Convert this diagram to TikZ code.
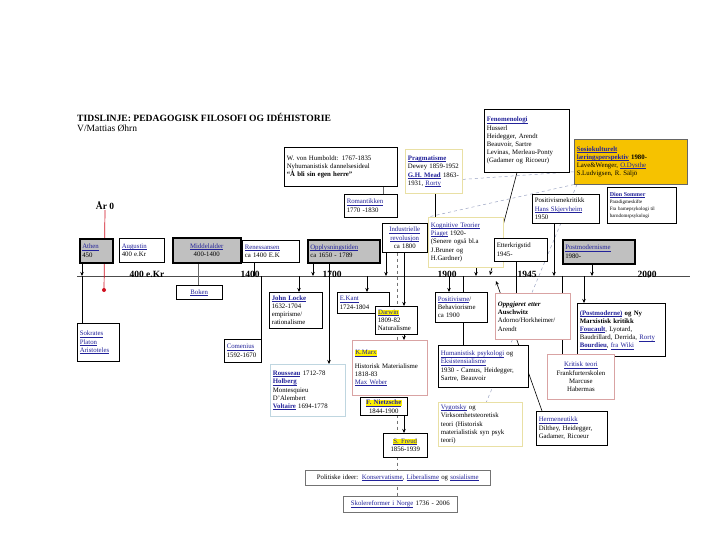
\documentclass[tikz,border=0pt]{standalone}
\usepackage{fontspec}
\setmainfont{Liberation Serif}
\usetikzlibrary{arrows.meta,calc}
\pgfdeclarelayer{bg}
\pgfsetlayers{bg,main}
\definecolor{lnk}{HTML}{22229A}
\definecolor{pinkb}{HTML}{D9A3A3}
\definecolor{yelb}{HTML}{E9E0A4}
\definecolor{blub}{HTML}{BFD6E0}
\definecolor{goldf}{HTML}{F6C200}
\definecolor{grayf}{HTML}{C0C0C0}
\definecolor{dashc}{HTML}{9AA3C2}
\definecolor{redl}{HTML}{D01020}
\newcommand\lk[1]{\textcolor{lnk}{\setbox0\hbox{#1}\rlap{\rule[-1.1pt]{\wd0}{0.35pt}}\box0}}
\newcommand\hly[1]{{\setlength{\fboxsep}{0.4pt}\colorbox{yellow}{#1}}}
\newcommand\fs{\fontsize{6.8}{8.2}\selectfont}
\begin{document}
\begin{tikzpicture}[x=1pt,y=-1pt,
  bx/.style={draw=black, fill=white, line width=0.5pt, inner sep=2.5pt, anchor=north west, align=left, font=\fs},
  bxg/.style={bx, fill=grayf, line width=1.5pt},
  tlab/.style={font=\fontsize{9.5}{10}\selectfont\bfseries, inner sep=0pt, anchor=base},
  ln/.style={line width=0.6pt},
  arr/.style={line width=0.6pt, -{Stealth[length=4pt,width=3.5pt]}},
  dl/.style={dashc, line width=0.5pt, dashed},
  tline/.style={line width=0.5pt, black!70}]
\useasboundingbox (0,0) rectangle (720,540);

% titles
\node[anchor=west, inner sep=0pt, font=\fontsize{9.6}{10}\selectfont\bfseries] (title) at (77,117) {TIDSLINJE: PEDAGOGISK FILOSOFI OG IDÉHISTORIE};
\node[anchor=west, inner sep=0pt, font=\fontsize{9.5}{10}\selectfont] (sub) at (77,128) {V/Mattias Øhrn};

% upper boxes
\node[bx, text width=108pt, minimum height=39pt] (humb) at (284,147) {W. von Humboldt: 1767-1835\\Nyhumanistisk dannelsesideal\\\textbf{“Å bli sin egen herre”}};
\node[bx, text width=48pt, minimum height=23pt] (rom) at (344,194) {\lk{Romantikken}\\1770 -1830};
\node[bx, draw=yelb, line width=0.8pt, text width=52pt, minimum height=44pt] (prag) at (405,149) {\lk{\textbf{Pragmatisme}}\\Dewey 1859-1952\\\lk{\textbf{G.H. Mead}} 1863-\\1931, \lk{Rorty}};
\node[bx, text width=80pt, minimum height=63pt] (fen) at (484,109) {\lk{\textbf{Fenomenologi}}\\Husserl\\Heidegger, Arendt\\Beauvoir, Sartre\\Levinas, Merleau-Ponty\\(Gadamer og Ricoeur)};
\node[bx, fill=goldf, draw=black!60, text width=108pt, minimum height=45pt] (sosio) at (574,139) {\lk{\textbf{Sosiokulturelt}}\\\lk{\textbf{læringsperspektiv}} \textbf{1980-}\\Lave\&Wenger, \lk{O.Dysthe}\\S.Ludvigsen, R. Säljö};
\node[bx, text width=62pt, minimum height=29pt] (pk) at (532,194) {Positivismekritikk\\\lk{Hans Skjervheim}\\1950};
\node[bx, font=\fontsize{5}{7}\selectfont, text width=64pt, minimum height=36pt] (dion) at (607,187) {\lk{\textbf{\fontsize{6}{7}\selectfont Dion Sommer}}\\Paradigmeskifte\\Fra barnepsykologi til\\barndomspsykologi};
\node[bx, draw=yelb, line width=0.8pt, text width=70pt, minimum height=50pt] (kog) at (428,217) {\lk{Kognitive Teorier}\\\lk{Piaget} 1920-\\(Senere også bl.a\\J.Bruner og\\H.Gardner)};
\node[bx, align=center, text width=40pt, minimum height=29pt] (ind) at (382,223) {\lk{Industrielle}\\\lk{revolusjon}\\ca 1800};
\node[bx, text width=48pt, minimum height=23pt] (etk) at (494,238) {Etterkrigstid\\1945-};
\node[bxg, text width=67pt, minimum height=24pt] (pm) at (562,239) {\lk{Postmodernisme}\\1980-};

% era boxes on the timeline
\node[bxg, text width=28pt, minimum height=24pt] (athen) at (79,238) {\lk{Athen}\\450};
\node[bx, text width=40pt, minimum height=24pt] (aug) at (119,238) {\lk{Augustin}\\400 e.Kr};
\node[bxg, align=center, text width=63pt, minimum height=25pt] (mid) at (172,237) {\lk{Middelalder}\\400-1400};
\node[bx, text width=52pt, minimum height=22pt] (ren) at (242,240) {\lk{Renessansen}\\ca 1400 E.K};
\node[bxg, text width=67pt, minimum height=23pt] (opl) at (307,239) {\lk{Opplysningstiden}\\ca 1650 - 1789};

% lower boxes
\node[bx, align=center, text width=41pt, minimum height=14pt] (boken) at (176,285) {\lk{Boken}};
\node[bx, text width=37pt, minimum height=38pt] (sok) at (77,323) {\lk{Sokrates}\\\lk{Platon}\\\lk{Aristoteles}};
\node[bx, text width=32pt, minimum height=23pt] (com) at (224,339) {\lk{Comenius}\\1592-1670};
\node[bx, text width=48pt, minimum height=36pt] (locke) at (269,292) {\lk{\textbf{John Locke}}\\1632-1704\\empirisme/\\rationalisme};
\node[bx, text width=47pt, minimum height=21pt] (kant) at (337,292) {\lk{E.Kant}\\1724-1804};
\node[bx, text width=37pt, minimum height=28pt] (darwin) at (375,306) {\hly{\lk{Darwin}}\\1809-82\\Naturalisme};
\node[bx, draw=pinkb, line width=0.8pt, text width=70pt, minimum height=55pt] (marx) at (352,340) {\hly{\lk{K.Marx}}\\[5pt]Historisk Materialisme\\1818-83\\\lk{Max Weber}};
\node[bx, draw=blub, line width=0.8pt, text width=70pt, minimum height=52pt] (rou) at (270,364) {\lk{\textbf{Rousseau}} 1712-78\\\lk{\textbf{Holberg}}\\Montesquieu\\D'Alembert\\\lk{\textbf{Voltaire}} 1694-1778};
\node[bx, align=center, text width=42pt, minimum height=18pt] (nie) at (360,397) {\hly{\lk{\textbf{F. Nietzsche}}}\\1844-1900};
\node[bx, align=center, text width=39pt, minimum height=24pt] (freud) at (383,433) {\hly{\lk{S. Freud}}\\1856-1939};
\node[bx, draw=black!55, align=center, text width=180pt, minimum height=15pt] (pol) at (305,470) {Politiske ideer: \lk{Konservatisme}, \lk{Liberalisme} og \lk{sosialisme}};
\node[bx, draw=black!55, align=center, text width=109pt, minimum height=16pt] (skole) at (343,496) {\lk{Skolereformer i Norge} 1736 - 2006};
\node[bx, text width=47pt, minimum height=30pt] (pos) at (435,292) {\lk{Positivisme}/\\Behaviorisme\\ca 1900};
\node[bx, text width=85pt, minimum height=42pt] (hum) at (438,345) {\lk{Humanistisk psykologi} og\\\lk{Eksistensialisme}\\1930 - Camus, Heidegger,\\Sartre, Beauvoir};
\node[bx, draw=pinkb, line width=0.8pt, text width=70pt, minimum height=46pt] (opp) at (495,293) {\textbf{\textit{Oppgjøret etter}}\\\textbf{Auschwitz}\\Adorno/Horkheimer/\\Arendt};
\node[bx, text width=83pt, minimum height=53pt] (pmo) at (577,303) {\lk{\textbf{(Postmoderne)}} \textbf{og Ny}\\\textbf{Marxistisk kritikk}\\\lk{\textbf{Foucault}}, Lyotard,\\Baudrillard, Derrida, \lk{Rorty}\\\lk{\textbf{Bourdieu}}, \lk{fra Wiki}};
\node[bx, draw=pinkb, line width=0.8pt, align=center, text width=62pt, minimum height=45pt] (krit) at (547,354) {\lk{Kritisk teori}\\Frankfurterskolen\\Marcuse\\Habermas};
\node[bx, draw=yelb, line width=0.8pt, text width=79pt, minimum height=42pt] (vyg) at (438,402) {\lk{Vygotsky} og\\Virksomhetsteoretisk\\teori (Historisk\\materialistisk syn psyk\\teori)};
\node[bx, text width=66pt, minimum height=34pt] (herm) at (536,411) {\lk{Hermeneutikk}\\Dilthey, Heidegger,\\Gadamer, Ricoeur};

% timeline labels
\node[font=\fontsize{9.5}{10}\selectfont\bfseries, inner sep=0pt] (ar0) at (105,206) {År 0};
\node[tlab] (l400) at (147,277) {400 e.Kr};
\node[tlab] (l1400) at (250,277) {1400};
\node[tlab] (l1700) at (332,277) {1700};
\node[tlab] (l1900) at (447,277) {1900};
\node[tlab] (l1945) at (527,277) {1945};
\node[tlab] (l2000) at (647,277) {2000};

% coordinates
\coordinate (tl0) at (77,276);
\coordinate (tl1) at (690,276);
\coordinate (t650) at (652,276);
\coordinate (dot) at (104,290);
\coordinate (tA) at (82,276);
\coordinate (tMid) at (198,276);
\coordinate (tRen) at (254,276);
\coordinate (tCom) at (261,276);
\coordinate (tLo) at (299,276);
\coordinate (tOp) at (313,276);
\coordinate (tOpl) at (329,276);
\coordinate (tKa) at (367,276);
\coordinate (xHR) at (383,276);
\coordinate (tIn) at (386,276);
\coordinate (tDash) at (397,276);
\coordinate (tDar) at (404,276);
\coordinate (tPr) at (435,276);
\coordinate (tPos) at (449,276);
\coordinate (tPos2) at (463,276);
\coordinate (tKo) at (476,276);
\coordinate (tFe) at (490,275);
\coordinate (xFe) at (517,276);
\coordinate (hT) at (496,281);
\coordinate (tEt) at (516,276);
\coordinate (tPk) at (554,276);
\coordinate (tOpp) at (562,276);
\coordinate (tPmo) at (584,276);
\coordinate (tPm) at (592,276);

\begin{pgfonlayer}{bg}
\fill[white] (0,0) rectangle (720,540);
\draw[tline, -{Stealth[length=4pt,width=3.5pt]}] (tl0) -- (t650);
\draw[tline] (t650) -- (tl1);
\draw[redl, line width=0.7pt] (ar0.south) -- (dot);
\fill[redl] (dot) circle (2pt);
\draw[arr] (athen.south -| tA) -- (tA);
\draw[ln] (tA) -- (sok.north -| tA);
\draw[ln, black!60] (mid.south -| tMid) -- (boken.north -| tMid);
\draw[ln] (ren.south -| tRen) -- (tRen);
\draw[ln] (tCom) -- (com.north -| tCom);
\draw[arr] (opl.south -| tOp) -- (tOp);
\draw[arr] (opl.south -| tOpl) -- (rou.north -| tOpl);
\draw[arr] (tLo) -- (locke.north -| tLo);
\draw[arr] (tKa) -- (kant.north -| tKa);
\draw[ln, black!60] (humb.south -| xHR) -- (rom.north -| xHR);
\draw[arr] (ind.south -| tIn) -- (tIn);
\draw[ln, dashed, black!55] (ind.south -| tDash) -- (skole.north -| tDash);
\draw[arr] (ind.south -| tDar) -- (darwin.north -| tDar);
\draw[arr] (darwin.south -| tDar) -- (marx.north -| tDar);
\draw[arr] (nie.south -| tDar) -- (freud.north -| tDar);
\draw[ln] (prag.south -| tPr) -- (kog.north -| tPr);
\draw[arr] (kog.south -| tKo) -- (tKo);
\draw[arr] (fen.south -| xFe) -- (tFe);
\draw[arr] (pk.south -| tPk) -- (tPk);
\draw[arr] (pm.south -| tPm) -- (tPm);
\draw[ln] (etk.south -| tEt) -- (opp.north -| tEt);
\draw[arr] (tPos) -- (pos.north -| tPos);
\draw[ln] (tPos2) -- (pos.north -| tPos2);
\draw[ln] (pos.south -| tPos2) -- (hum.north -| tPos2);
\draw[ln] (tOpp) -- (opp.north -| tOpp);
\draw[arr] (tPmo) -- (pmo.north -| tPmo);
\draw[ln] (opp.south -| tOpp) -- (krit.north -| tOpp);
\draw[arr] ($(herm.north west)+(6,0)$) -- (hT);
\draw[dl] ($(prag.east)+(0,8)$) -- ($(sosio.west)+(0,10)$);
\draw[dl] (sosio.south west) -- (kog.north west);
\draw[dl] ($(sosio.south west)+(3,0)$) -- ($(vyg.north)+(6,0)$);
\end{pgfonlayer}
\end{tikzpicture}
\end{document}
